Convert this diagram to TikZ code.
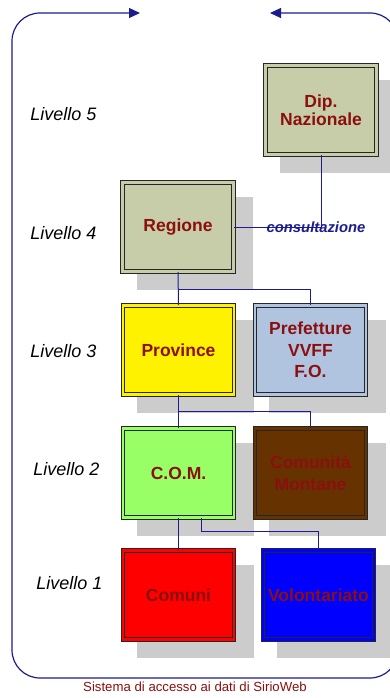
\documentclass[tikz,border=0pt]{standalone}
\usepackage{fontspec}
\setmainfont{Liberation Sans}
\usetikzlibrary{arrows.meta,shadows}
\definecolor{sirioblue}{HTML}{1C1C8E}
\definecolor{siriored}{HTML}{8B0F0F}
\definecolor{salvia}{HTML}{C6CDA8}
\definecolor{azzurro}{HTML}{B0C4E0}
\definecolor{verde}{HTML}{99FF66}
\definecolor{marrone}{HTML}{663300}

\begin{document}
\begin{tikzpicture}[x=1pt, y=-1pt,
      ente/.style={rectangle, draw=black!85, line width=1pt, double=#1,
        double distance=2.4pt, fill=#1, minimum width=111pt, minimum height=89pt,
        align=center, text=siriored, font=\fontsize{17.5}{21.5}\selectfont\bfseries,
        drop shadow={shadow xshift=16pt, shadow yshift=-15.5pt, shadow scale=1.05,
          fill=gray!40, opacity=1}},
      livello/.style={font=\fontsize{18}{20}\selectfont\itshape},
      conn/.style={draw=sirioblue, line width=1pt},
      cornice/.style={draw=sirioblue, line width=1.2pt, rounded corners=28pt,
        arrows={Triangle[length=11pt,width=10pt]-Triangle[length=11pt,width=10pt]}}
    ]
      \useasboundingbox (0,0) rectangle (390,698);
      \draw[cornice] (140,13) -| (12,678) -| (398,13) -- (270,13);
      \node[livello] (l5) at (63.5,114) {Livello 5};
      \node[livello] (l4) at (63.5,233) {Livello 4};
      \node[livello] (l3) at (63.5,351) {Livello 3};
      \node[livello] (l2) at (66.5,469) {Livello 2};
      \node[livello] (l1) at (69.5,583) {Livello 1};
      \node[ente=salvia, font=\fontsize{17.5}{18.5}\selectfont\bfseries] (dip) at (321,110) {Dip.\\Nazionale};
      \node[ente=salvia] (regione) at (178,227) {Regione};
      \node[ente=yellow] (province) at (178.5,350) {Province};
      \node[ente=azzurro] (prefetture) at (310.5,350) {Prefetture\\VVFF\\F.O.};
      \node[ente=verde] (com) at (178.5,473) {C.O.M.};
      \node[ente=marrone] (montane) at (310.5,473) {Comunità\\Montane};
      \node[ente=red] (comuni) at (178.5,595) {Comuni};
      \node[ente=blue] (volont) at (318.5,595) {Volontariato};
      \coordinate (r3) at (178,289);
      \coordinate (r2) at (178,411);
      \draw[conn] (dip.south) |- (regione.east);
      \node[text=sirioblue, font=\fontsize{14.8}{16}\selectfont\bfseries\itshape] (cons) at (316,227) {consultazione};
      \draw[conn] (regione.south) -- (province.north); \draw[conn] (r3) -| (prefetture.north);
      \draw[conn] (province.south) -- (com.north); \draw[conn] (r2) -| (montane.north);
      \draw[conn] (com.south) -- (comuni.north);
      \draw[conn] ([xshift=23pt]com.south) -- ++(0,13) -| (volont.north);
      \node[text=siriored, font=\fontsize{13.2}{15}\selectfont] (titolo) at (195,687) {Sistema di accesso ai dati di SirioWeb};
    \end{tikzpicture}
\end{document}
